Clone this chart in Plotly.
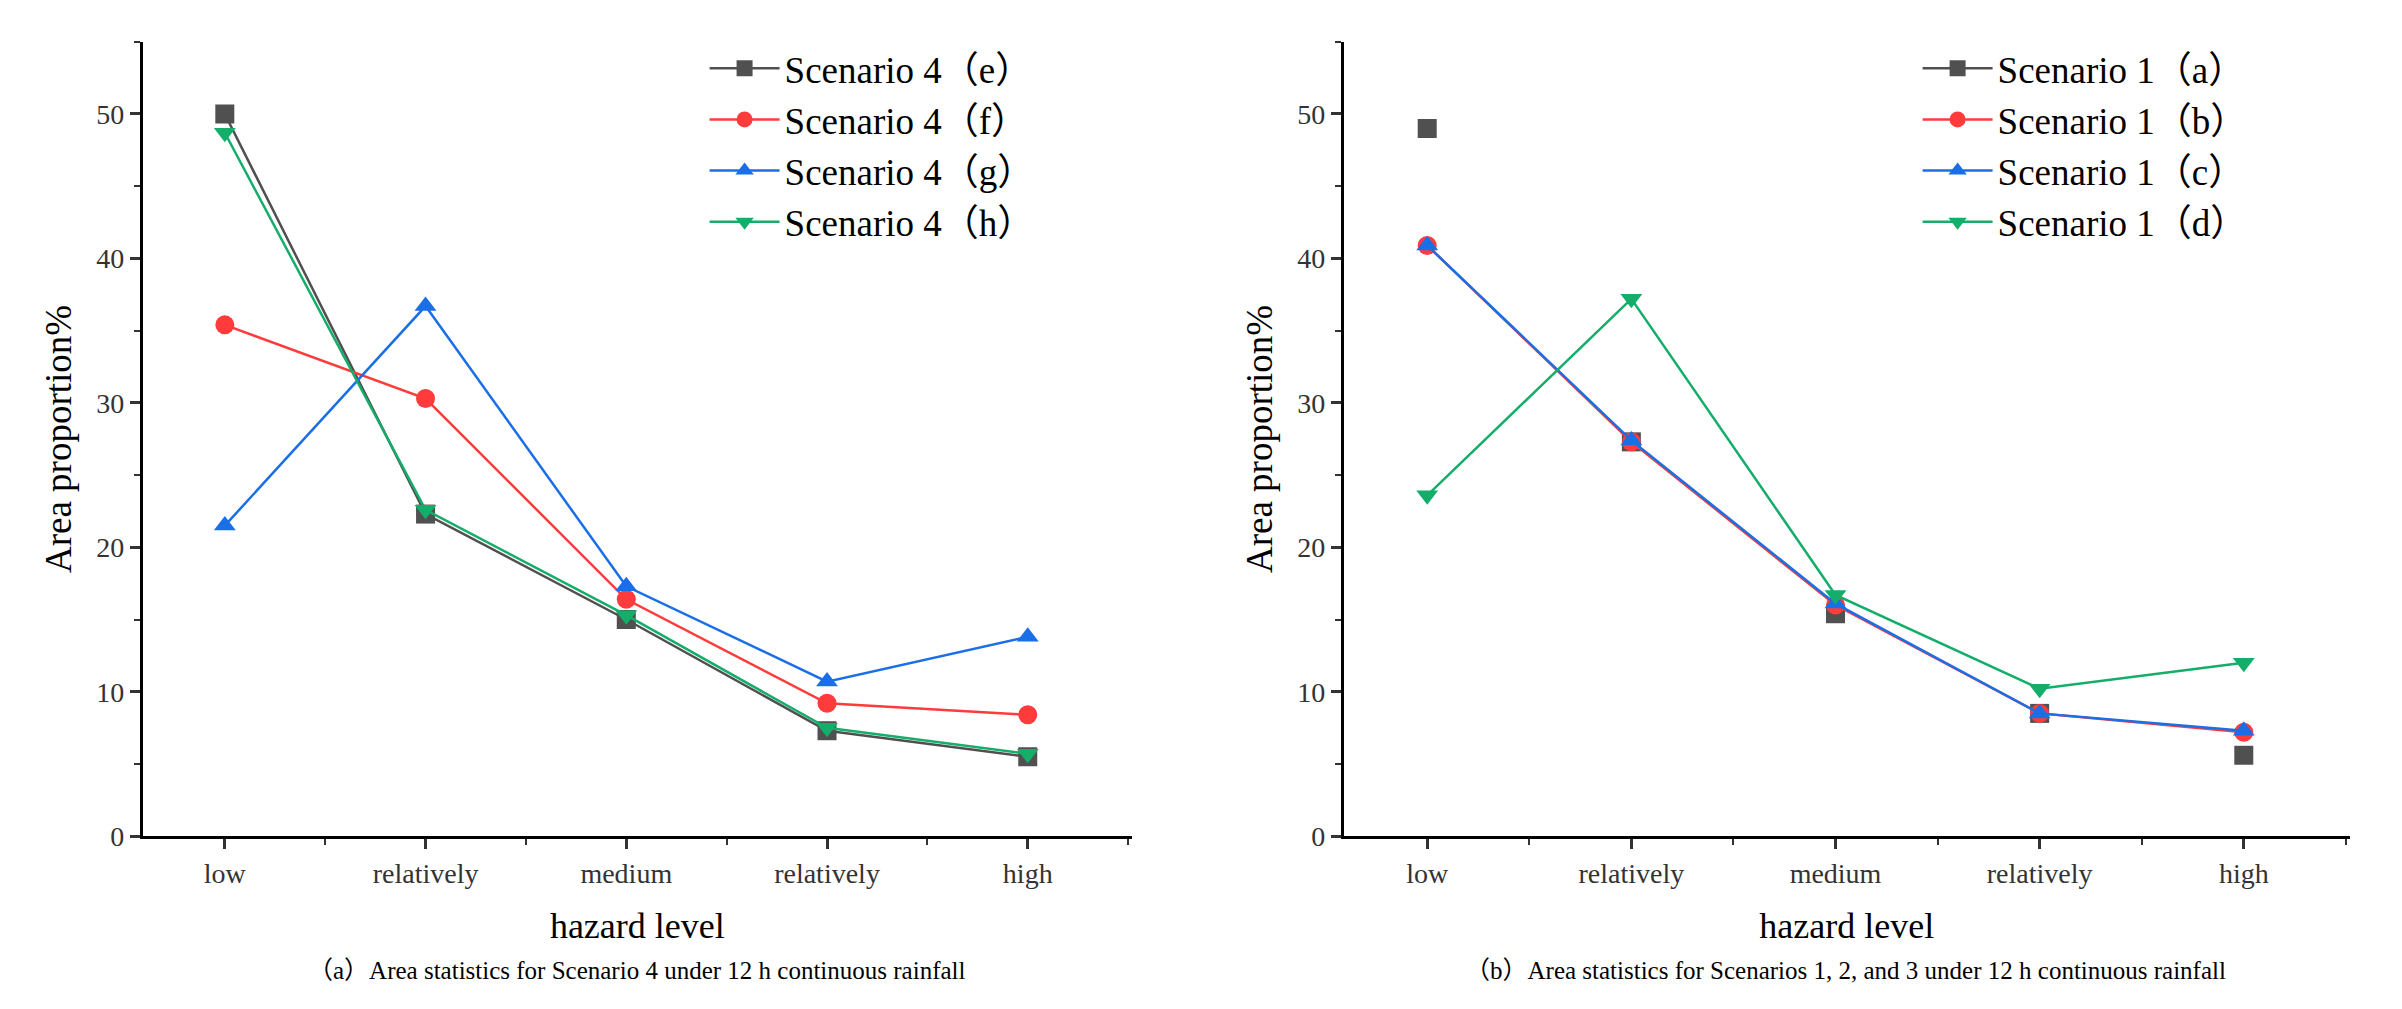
import plotly.graph_objects as go

cats = ["low", "relatively", "medium", "relatively", "high"]
xs = [1, 2, 3, 4, 5]
left_names = ["Scenario 4（e）", "Scenario 4（f）", "Scenario 4（g）", "Scenario 4（h）"]
left_vals = [
    [50.0, 22.3, 15.0, 7.3, 5.5],
    [35.4, 30.3, 16.4, 9.2, 8.4],
    [21.5, 36.7, 17.3, 10.7, 13.8],
    [48.7, 22.6, 15.3, 7.5, 5.7],
]
right_names = ["Scenario 1（a）", "Scenario 1（b）", "Scenario 1（c）", "Scenario 1（d）"]
right_vals = [
    [49.0, 27.3, 15.4, 8.5, 5.6],
    [40.9, 27.3, 16.0, 8.5, 7.2],
    [40.9, 27.4, 16.1, 8.5, 7.3],
    [23.6, 37.2, 16.7, 10.2, 12.0],
]
colors = ["#505050", "#ff3b3b", "#1a6fe6", "#14ad6a"]
symbols = ["square", "circle", "triangle-up", "triangle-down"]
FONT = "Liberation Serif, Noto Sans CJK SC, serif"

fig = go.Figure()
for i in range(4):
    fig.add_trace(go.Scatter(x=xs, y=left_vals[i], name=left_names[i], mode="lines+markers",
                             line=dict(color=colors[i], width=2.5),
                             marker=dict(symbol=symbols[i], size=19, color=colors[i]),
                             xaxis="x", yaxis="y", legend="legend"))
for i in range(4):
    if i == 0:
        fig.add_trace(go.Scatter(x=xs, y=right_vals[i], name=right_names[i], mode="markers",
                                 marker=dict(symbol=symbols[i], size=19, color=colors[i]),
                                 xaxis="x2", yaxis="y2", showlegend=False))
        fig.add_trace(go.Scatter(x=[None], y=[None], name=right_names[i], mode="lines+markers",
                                 line=dict(color=colors[i], width=2.5),
                                 marker=dict(symbol=symbols[i], size=19, color=colors[i]),
                                 xaxis="x2", yaxis="y2", legend="legend2"))
    else:
        fig.add_trace(go.Scatter(x=xs, y=right_vals[i], name=right_names[i], mode="lines+markers",
                                 line=dict(color=colors[i], width=2.5),
                                 marker=dict(symbol=symbols[i], size=19, color=colors[i]),
                                 xaxis="x2", yaxis="y2", legend="legend2"))

ax = dict(showline=True, linecolor="black", linewidth=2.5, ticks="outside", ticklen=10,
          tickwidth=2.5, tickcolor="#333", showgrid=False, zeroline=False,
          tickfont=dict(family=FONT, size=28, color="#333"))
xax = dict(ax, tickmode="array", tickvals=xs, ticktext=cats, range=[0.59, 5.52],
           minor=dict(ticks="outside", ticklen=6, tickwidth=2, tickcolor="#333", dtick=0.5, tick0=0.5),
           title=dict(text="hazard level", font=dict(family=FONT, size=36, color="black"), standoff=26))
yax = dict(ax, range=[0, 55], dtick=10,
           minor=dict(ticks="outside", ticklen=6, tickwidth=2, tickcolor="#333", dtick=5),
           title=dict(text="Area proportion%", font=dict(family=FONT, size=37, color="black"), standoff=14))

leg = dict(font=dict(family=FONT, size=37, color="black"), bgcolor="rgba(0,0,0,0)",
           xanchor="left", yanchor="top", tracegroupgap=0, itemwidth=70)
fig.update_layout(
    width=2402, height=1009, margin=dict(l=0, r=0, t=0, b=0),
    plot_bgcolor="white", paper_bgcolor="white",
    xaxis=dict(xax, domain=[0.056, 0.468], anchor="y"),
    yaxis=dict(yax, domain=[0.166, 0.966], anchor="x"),
    xaxis2=dict(xax, domain=[0.556, 0.975], anchor="y2"),
    yaxis2=dict(yax, domain=[0.166, 0.966], anchor="x2"),
    legend=dict(leg, x=0.29, y=0.97),
    legend2=dict(leg, x=0.795, y=0.97),
    annotations=[
        dict(text="（a）Area statistics for Scenario 4 under 12 h continuous rainfall", x=0.262, y=0.015,
             xref="paper", yref="paper", showarrow=False, xanchor="center", yanchor="bottom",
             font=dict(family=FONT, size=25, color="black")),
        dict(text="（b）Area statistics for Scenarios 1, 2, and 3 under 12 h continuous rainfall", x=0.765, y=0.015,
             xref="paper", yref="paper", showarrow=False, xanchor="center", yanchor="bottom",
             font=dict(family=FONT, size=25, color="black")),
    ],
)
fig.write_html("out.html")
